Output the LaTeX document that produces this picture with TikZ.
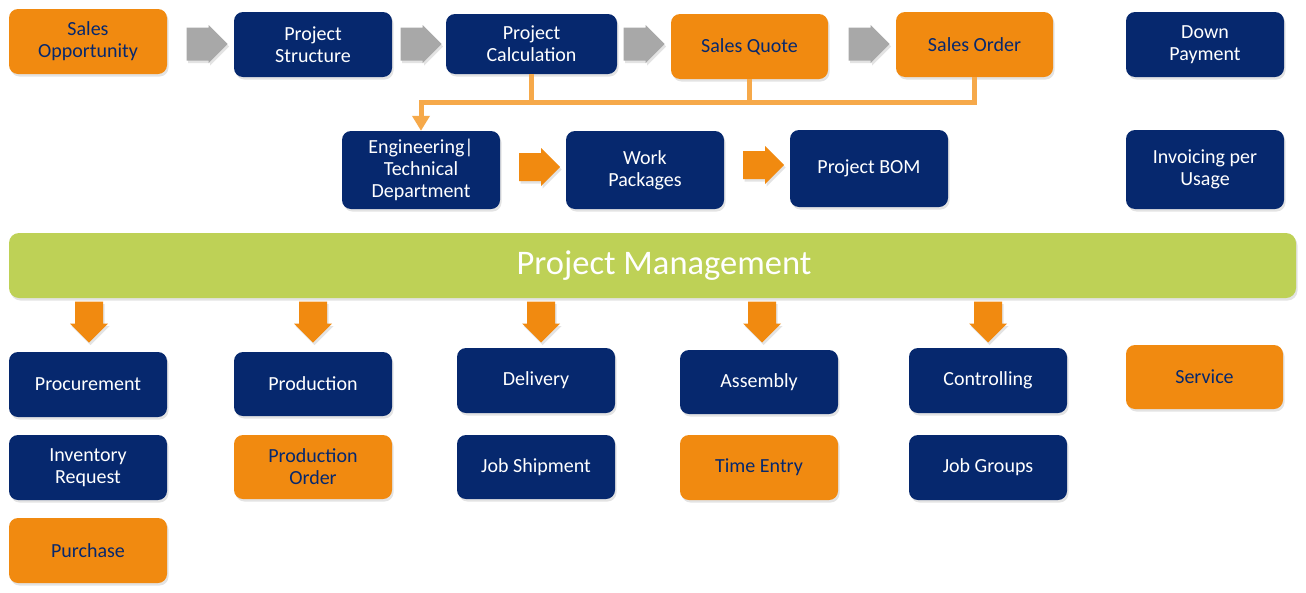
\documentclass[tikz,border=0pt]{standalone}
\usepackage{fontspec}
\setmainfont{Carlito}
\usetikzlibrary{shadows,calc,arrows.meta}
\definecolor{navy}{HTML}{06286E}
\definecolor{orng}{HTML}{F18A10}
\definecolor{lorng}{HTML}{F6A94A}
\definecolor{grn}{HTML}{BED156}
\definecolor{gry}{HTML}{A8A8A8}
\begin{document}
\begin{tikzpicture}[x=1pt,y=-1pt,
  shad/.style={drop shadow={opacity=0.22,shadow xshift=1.5pt,shadow yshift=-2.5pt}},
  box/.style={rounded corners=9pt, minimum width=158pt, minimum height=65pt, align=center,
    inner sep=2pt, font=\fontsize{20}{22}\selectfont, shad},
  nbox/.style={box, fill=navy, text=white},
  obox/.style={box, fill=orng, text=navy},
  pics/blockarrow/.style n args={3}{code={
    \fill[#1, shad] (-20.5,-#2) -- (1.5,-#2) -- (1.5,-#3) -- (20.5,0) -- (1.5,#3)
      -- (1.5,#2) -- (-20.5,#2) -- cycle;}},
  pics/garrow/.style={blockarrow={gry}{16.5}{19}},
  pics/oarrow/.style={blockarrow={orng}{14}{19}},
  lconn/.style={draw=lorng, line width=5pt}
]
\useasboundingbox[fill=white] (0,0) rectangle (1306,592);

% top row
\node[obox] (so) at (88,41.5) {Sales\\Opportunity};
\node[nbox] (ps) at (313,44.5) {Project\\Structure};
\node[nbox, minimum width=171pt, minimum height=60pt] (pc) at (531.5,44) {Project\\Calculation};
\node[obox, minimum width=157pt] (sq) at (749.5,46.5) {Sales Quote};
\node[obox, minimum width=157pt] (sord) at (974.5,44.5) {Sales Order};
\node[nbox] (dp) at (1205,44.5) {Down\\Payment};

\pic (ga1) at (207,44) {garrow};
\pic (ga2) at (421,44) {garrow};
\pic (ga3) at (644,44) {garrow};
\pic (ga4) at (869,44) {garrow};

% second row
\node[nbox, minimum height=78pt] (eng) at (421,170) {Engineering|\\Technical\\Department};
\node[nbox, minimum height=78pt] (wp) at (645,170) {Work\\Packages};
\node[nbox, minimum height=77pt] (bom) at (869,168.5) {Project BOM};
\node[nbox, minimum height=79pt] (inv) at (1205,169.5) {Invoicing per\\Usage};

\pic (oa1) at (539.5,167) {oarrow};
\pic (oa2) at (763.5,165) {oarrow};

% connector
\coordinate (j) at (421,102);
\draw[lconn] (pc.south) -- (pc.south |- j);
\draw[lconn] (sq.south) -- (sq.south |- j);
\draw[lconn, -{Triangle[width=17pt,length=15pt]}] (sord.south) |- (j) -- (eng.north);

% project management bar
\node[rounded corners=10pt, fill=grn, minimum width=1287pt, minimum height=65pt, text=white,
  font=\fontsize{34.5}{38}\selectfont, shad] (pm) at (652.5,265.5) {\hspace*{23pt}\raisebox{-2pt}{Project Management}};

% down arrows
\pic[rotate=-90] (d1) at (89,322) {oarrow};
\pic[rotate=-90] (d2) at (313,322) {oarrow};
\pic[rotate=-90] (d3) at (541,322) {oarrow};
\pic[rotate=-90] (d4) at (762,322) {oarrow};
\pic[rotate=-90] (d5) at (988,322) {oarrow};

% lower rows
\node[nbox] (proc) at (88,384.5) {Procurement};
\node[nbox, minimum height=64pt] (prod) at (313,384) {Production};
\node[nbox] (del) at (536,380.5) {Delivery};
\node[nbox, minimum height=64pt] (asm) at (759,382) {Assembly};
\node[nbox] (ctrl) at (988,380.5) {Controlling};
\node[obox, minimum width=157pt, minimum height=64pt] (serv) at (1204.5,377) {Service};

\node[nbox] (invr) at (88,467.5) {Inventory\\Request};
\node[obox, minimum height=64pt] (prodo) at (313,467) {Production\\Order};
\node[nbox, minimum height=64pt] (jship) at (536,467) {Job Shipment};
\node[obox] (tent) at (759,467.5) {Time Entry};
\node[nbox] (jgrp) at (988,467.5) {Job Groups};

\node[obox] (pur) at (88,550.5) {Purchase};
\end{tikzpicture}
\end{document}
